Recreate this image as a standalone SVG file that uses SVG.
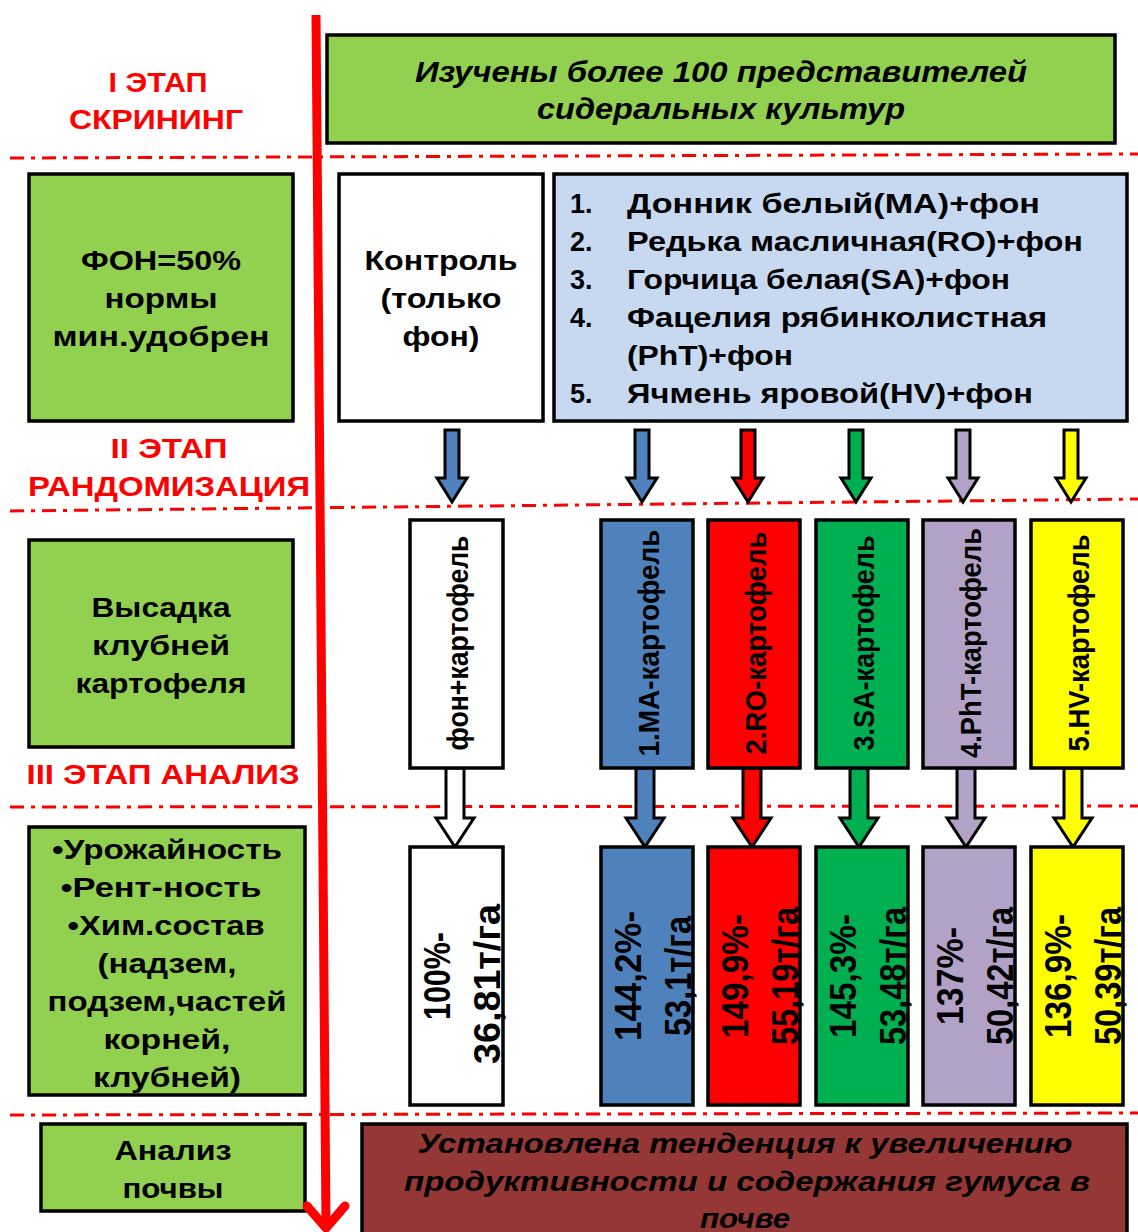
<svg xmlns="http://www.w3.org/2000/svg" width="1138" height="1232" viewBox="0 0 1138 1232">
<style>
.t{font-family:"Liberation Sans",Arial,sans-serif;font-weight:bold;fill:#000}
.c{text-anchor:middle}
.it{font-style:italic}
.stage{font-family:"Liberation Sans",Arial,sans-serif;font-weight:bold;fill:#ff0000;font-size:28px;text-anchor:middle}
.box{stroke:#000;stroke-width:3.5}
.g{fill:#92d050}
.w{fill:#ffffff}
.lb{fill:#c6d9f1}
.b{fill:#4f81bd}
.r{fill:#ff0000}
.gr{fill:#00b050}
.lv{fill:#b3a2c7}
.y{fill:#ffff00}
.br{fill:#953735}
.dash{stroke:#ff0000;stroke-width:3;stroke-dasharray:14 7 4 7;fill:none}
.arr{stroke:#000;stroke-width:3;stroke-linejoin:miter}
</style>

<!-- dash-dot separators -->
<g id="separators">
<line class="dash" x1="10" y1="158" x2="1138" y2="154"/>
<line class="dash" x1="10" y1="511" x2="1138" y2="499"/>
<line class="dash" x1="10" y1="807" x2="1138" y2="806"/>
<line class="dash" x1="10" y1="1115" x2="1138" y2="1113"/>
</g>

<!-- stage labels -->
<g id="stage1"><text class="stage" x="158" y="92" textLength="99" lengthAdjust="spacingAndGlyphs">I ЭТАП</text><text class="stage" x="156" y="129" textLength="174" lengthAdjust="spacingAndGlyphs">СКРИНИНГ</text></g>
<g id="stage2"><text class="stage" x="169" y="458" textLength="117" lengthAdjust="spacingAndGlyphs">II  ЭТАП</text><text class="stage" x="169" y="496" textLength="282" lengthAdjust="spacingAndGlyphs">РАНДОМИЗАЦИЯ</text></g>
<g id="stage3"><text class="stage" x="163" y="784" textLength="273" lengthAdjust="spacingAndGlyphs">III  ЭТАП АНАЛИЗ</text></g>

<!-- top box -->
<g id="screening">
<rect class="box g" x="327" y="35" width="788" height="108"/>
<text class="t c it" x="721" y="82" font-size="29" textLength="612" lengthAdjust="spacingAndGlyphs">Изучены более 100 представителей</text>
<text class="t c it" x="721" y="119" font-size="29" textLength="368" lengthAdjust="spacingAndGlyphs">сидеральных культур</text>
</g>

<!-- left column -->
<g id="fon">
<rect class="box g" x="29" y="174" width="264" height="247"/>
<text class="t c" x="161" y="270" font-size="27" textLength="160" lengthAdjust="spacingAndGlyphs">ФОН=50%</text>
<text class="t c" x="161" y="308" font-size="27" textLength="113" lengthAdjust="spacingAndGlyphs">нормы</text>
<text class="t c" x="161" y="346" font-size="27" textLength="217" lengthAdjust="spacingAndGlyphs">мин.удобрен</text>
</g>
<g id="planting">
<rect class="box g" x="29" y="540" width="264" height="207"/>
<text class="t c" x="161" y="617" font-size="27" textLength="139" lengthAdjust="spacingAndGlyphs">Высадка</text>
<text class="t c" x="161" y="655" font-size="27" textLength="138" lengthAdjust="spacingAndGlyphs">клубней</text>
<text class="t c" x="161" y="693" font-size="27" textLength="171" lengthAdjust="spacingAndGlyphs">картофеля</text>
</g>
<g id="analysis">
<rect class="box g" x="29" y="827" width="276" height="268"/>
<text class="t c" x="167" y="859" font-size="27" textLength="230" lengthAdjust="spacingAndGlyphs">•Урожайность</text>
<text class="t c" x="161" y="897" font-size="27" textLength="201" lengthAdjust="spacingAndGlyphs">•Рент-ность</text>
<text class="t c" x="166" y="935" font-size="27" textLength="197" lengthAdjust="spacingAndGlyphs">•Хим.состав</text>
<text class="t c" x="167" y="973" font-size="27" textLength="139" lengthAdjust="spacingAndGlyphs">(надзем,</text>
<text class="t c" x="167" y="1011" font-size="27" textLength="239" lengthAdjust="spacingAndGlyphs">подзем,частей</text>
<text class="t c" x="167" y="1049" font-size="27" textLength="127" lengthAdjust="spacingAndGlyphs">корней,</text>
<text class="t c" x="167" y="1087" font-size="27" textLength="148" lengthAdjust="spacingAndGlyphs">клубней)</text>
</g>
<g id="soil">
<rect class="box g" x="41" y="1124" width="264" height="87"/>
<text class="t c" x="173" y="1160" font-size="28" textLength="117" lengthAdjust="spacingAndGlyphs">Анализ</text>
<text class="t c" x="173" y="1198" font-size="28" textLength="101" lengthAdjust="spacingAndGlyphs">почвы</text>
</g>

<!-- control & list -->
<g id="control">
<rect class="box w" x="339" y="174" width="204" height="247"/>
<text class="t c" x="441" y="270" font-size="27" textLength="153" lengthAdjust="spacingAndGlyphs">Контроль</text>
<text class="t c" x="441" y="308" font-size="27" textLength="121" lengthAdjust="spacingAndGlyphs">(только</text>
<text class="t c" x="441" y="346" font-size="27" textLength="77" lengthAdjust="spacingAndGlyphs">фон)</text>
</g>
<g id="list">
<rect class="box lb" x="554" y="174" width="573" height="247"/>
<g font-size="27">
<text class="t" x="570" y="213">1.</text><text class="t" x="627" y="213" textLength="413" lengthAdjust="spacingAndGlyphs">Донник  белый(MA)+фон</text>
<text class="t" x="570" y="251">2.</text><text class="t" x="627" y="251" textLength="456" lengthAdjust="spacingAndGlyphs">Редька масличная(RO)+фон</text>
<text class="t" x="570" y="289">3.</text><text class="t" x="627" y="289" textLength="383" lengthAdjust="spacingAndGlyphs">Горчица белая(SA)+фон</text>
<text class="t" x="570" y="327">4.</text><text class="t" x="627" y="327" textLength="420" lengthAdjust="spacingAndGlyphs">Фацелия рябинколистная</text>
<text class="t" x="627" y="365" textLength="166" lengthAdjust="spacingAndGlyphs">(PhT)+фон</text>
<text class="t" x="570" y="403">5.</text><text class="t" x="627" y="403" textLength="406" lengthAdjust="spacingAndGlyphs">Ячмень яровой(HV)+фон</text>
</g>
</g>

<!-- connectors -->
<g id="connectors">
<path class="arr b" d="M445,430H459V478H467L452,502L437,478H445Z"/>
<path class="arr b" d="M635,430H649V478H657L642,502L627,478H635Z"/>
<path class="arr r" d="M741,430H755V478H763L748,502L733,478H741Z"/>
<path class="arr gr" d="M849,430H863V478H871L856,502L841,478H849Z"/>
<path class="arr lv" d="M956,430H970V478H978L963,502L948,478H956Z"/>
<path class="arr y" d="M1064,430H1078V478H1086L1071,502L1056,478H1064Z"/>

<path class="arr w" d="M446,768H464V818H474L455,847L436,818H446Z"/>
<path class="arr b" d="M636,768H654V818H664L645,847L626,818H636Z"/>
<path class="arr r" d="M743,768H761V818H771L752,847L733,818H743Z"/>
<path class="arr gr" d="M850,768H868V818H878L859,847L840,818H850Z"/>
<path class="arr lv" d="M957,768H975V818H985L966,847L947,818H957Z"/>
<path class="arr y" d="M1064,768H1082V818H1092L1073,847L1054,818H1064Z"/>
</g>

<!-- row 2: planting variants -->
<g id="p0"><rect class="box w" x="410" y="520" width="93" height="248"/><text class="t c" transform="translate(410,643) rotate(-90)" x="0" y="58" font-size="30" textLength="215" lengthAdjust="spacingAndGlyphs">фон+картофель</text></g>
<g id="p1"><rect class="box b" x="601" y="520" width="92" height="248"/><text class="t c" transform="translate(601,643) rotate(-90)" x="0" y="58" font-size="30" textLength="227" lengthAdjust="spacingAndGlyphs">1.MA-картофель</text></g>
<g id="p2"><rect class="box r" x="708" y="520" width="92" height="248"/><text class="t c" transform="translate(708,643) rotate(-90)" x="0" y="58" font-size="30" textLength="223" lengthAdjust="spacingAndGlyphs">2.RO-картофель</text></g>
<g id="p3"><rect class="box gr" x="816" y="520" width="92" height="248"/><text class="t c" transform="translate(816,643) rotate(-90)" x="0" y="58" font-size="30" textLength="215" lengthAdjust="spacingAndGlyphs">3.SA-картофель</text></g>
<g id="p4"><rect class="box lv" x="923" y="520" width="92" height="248"/><text class="t c" transform="translate(923,643) rotate(-90)" x="0" y="58" font-size="30" textLength="230" lengthAdjust="spacingAndGlyphs">4.PhT-картофель</text></g>
<g id="p5"><rect class="box y" x="1031" y="520" width="92" height="248"/><text class="t c" transform="translate(1031,643) rotate(-90)" x="0" y="58" font-size="30" textLength="217" lengthAdjust="spacingAndGlyphs">5.HV-картофель</text></g>

<!-- row 3: results -->
<g id="r0"><rect class="box w" x="410" y="847" width="93" height="258"/>
<g transform="translate(410,976) rotate(-90)" font-size="37"><text class="t c" x="0" y="40" textLength="88" lengthAdjust="spacingAndGlyphs">100%-</text><text class="t c" x="-8" y="90" textLength="160" lengthAdjust="spacingAndGlyphs">36,81т/га</text></g></g>
<g id="r1"><rect class="box b" x="601" y="847" width="92" height="258"/>
<g transform="translate(601,976) rotate(-90)" font-size="37"><text class="t c" x="0" y="40" textLength="130" lengthAdjust="spacingAndGlyphs">144,2%-</text><text class="t c" x="0" y="90" textLength="120" lengthAdjust="spacingAndGlyphs">53,1т/га</text></g></g>
<g id="r2"><rect class="box r" x="708" y="847" width="92" height="258"/>
<g transform="translate(708,976) rotate(-90)" font-size="37"><text class="t c" x="0" y="40" textLength="124" lengthAdjust="spacingAndGlyphs">149,9%-</text><text class="t c" x="0" y="90" textLength="138" lengthAdjust="spacingAndGlyphs">55,19т/га</text></g></g>
<g id="r3"><rect class="box gr" x="816" y="847" width="92" height="258"/>
<g transform="translate(816,976) rotate(-90)" font-size="37"><text class="t c" x="0" y="40" textLength="124" lengthAdjust="spacingAndGlyphs">145,3%-</text><text class="t c" x="0" y="90" textLength="138" lengthAdjust="spacingAndGlyphs">53,48т/га</text></g></g>
<g id="r4"><rect class="box lv" x="923" y="847" width="92" height="258"/>
<g transform="translate(923,976) rotate(-90)" font-size="37"><text class="t c" x="0" y="40" textLength="98" lengthAdjust="spacingAndGlyphs">137%-</text><text class="t c" x="0" y="90" textLength="138" lengthAdjust="spacingAndGlyphs">50,42т/га</text></g></g>
<g id="r5"><rect class="box y" x="1031" y="847" width="92" height="258"/>
<g transform="translate(1031,976) rotate(-90)" font-size="37"><text class="t c" x="0" y="40" textLength="124" lengthAdjust="spacingAndGlyphs">136,9%-</text><text class="t c" x="0" y="90" textLength="138" lengthAdjust="spacingAndGlyphs">50,39т/га</text></g></g>

<!-- conclusion -->
<g id="conclusion">
<rect class="box br" x="362" y="1124" width="765" height="130"/>
<text class="t c it" x="745" y="1153" font-size="28" textLength="655" lengthAdjust="spacingAndGlyphs">Установлена тенденция к увеличению</text>
<text class="t c it" x="747" y="1191" font-size="28" textLength="686" lengthAdjust="spacingAndGlyphs">продуктивности и содержания гумуса в</text>
<text class="t c it" x="745" y="1228" font-size="28" textLength="90" lengthAdjust="spacingAndGlyphs">почве</text>
</g>

<!-- timeline arrow -->
<g id="timeline" stroke="#ff0000" stroke-width="9" fill="none">
<line x1="316" y1="15" x2="326" y2="1226"/>
<polyline points="307,1206 326,1228 345,1206" stroke-linecap="round" stroke-linejoin="round"/>
</g>
</svg>
